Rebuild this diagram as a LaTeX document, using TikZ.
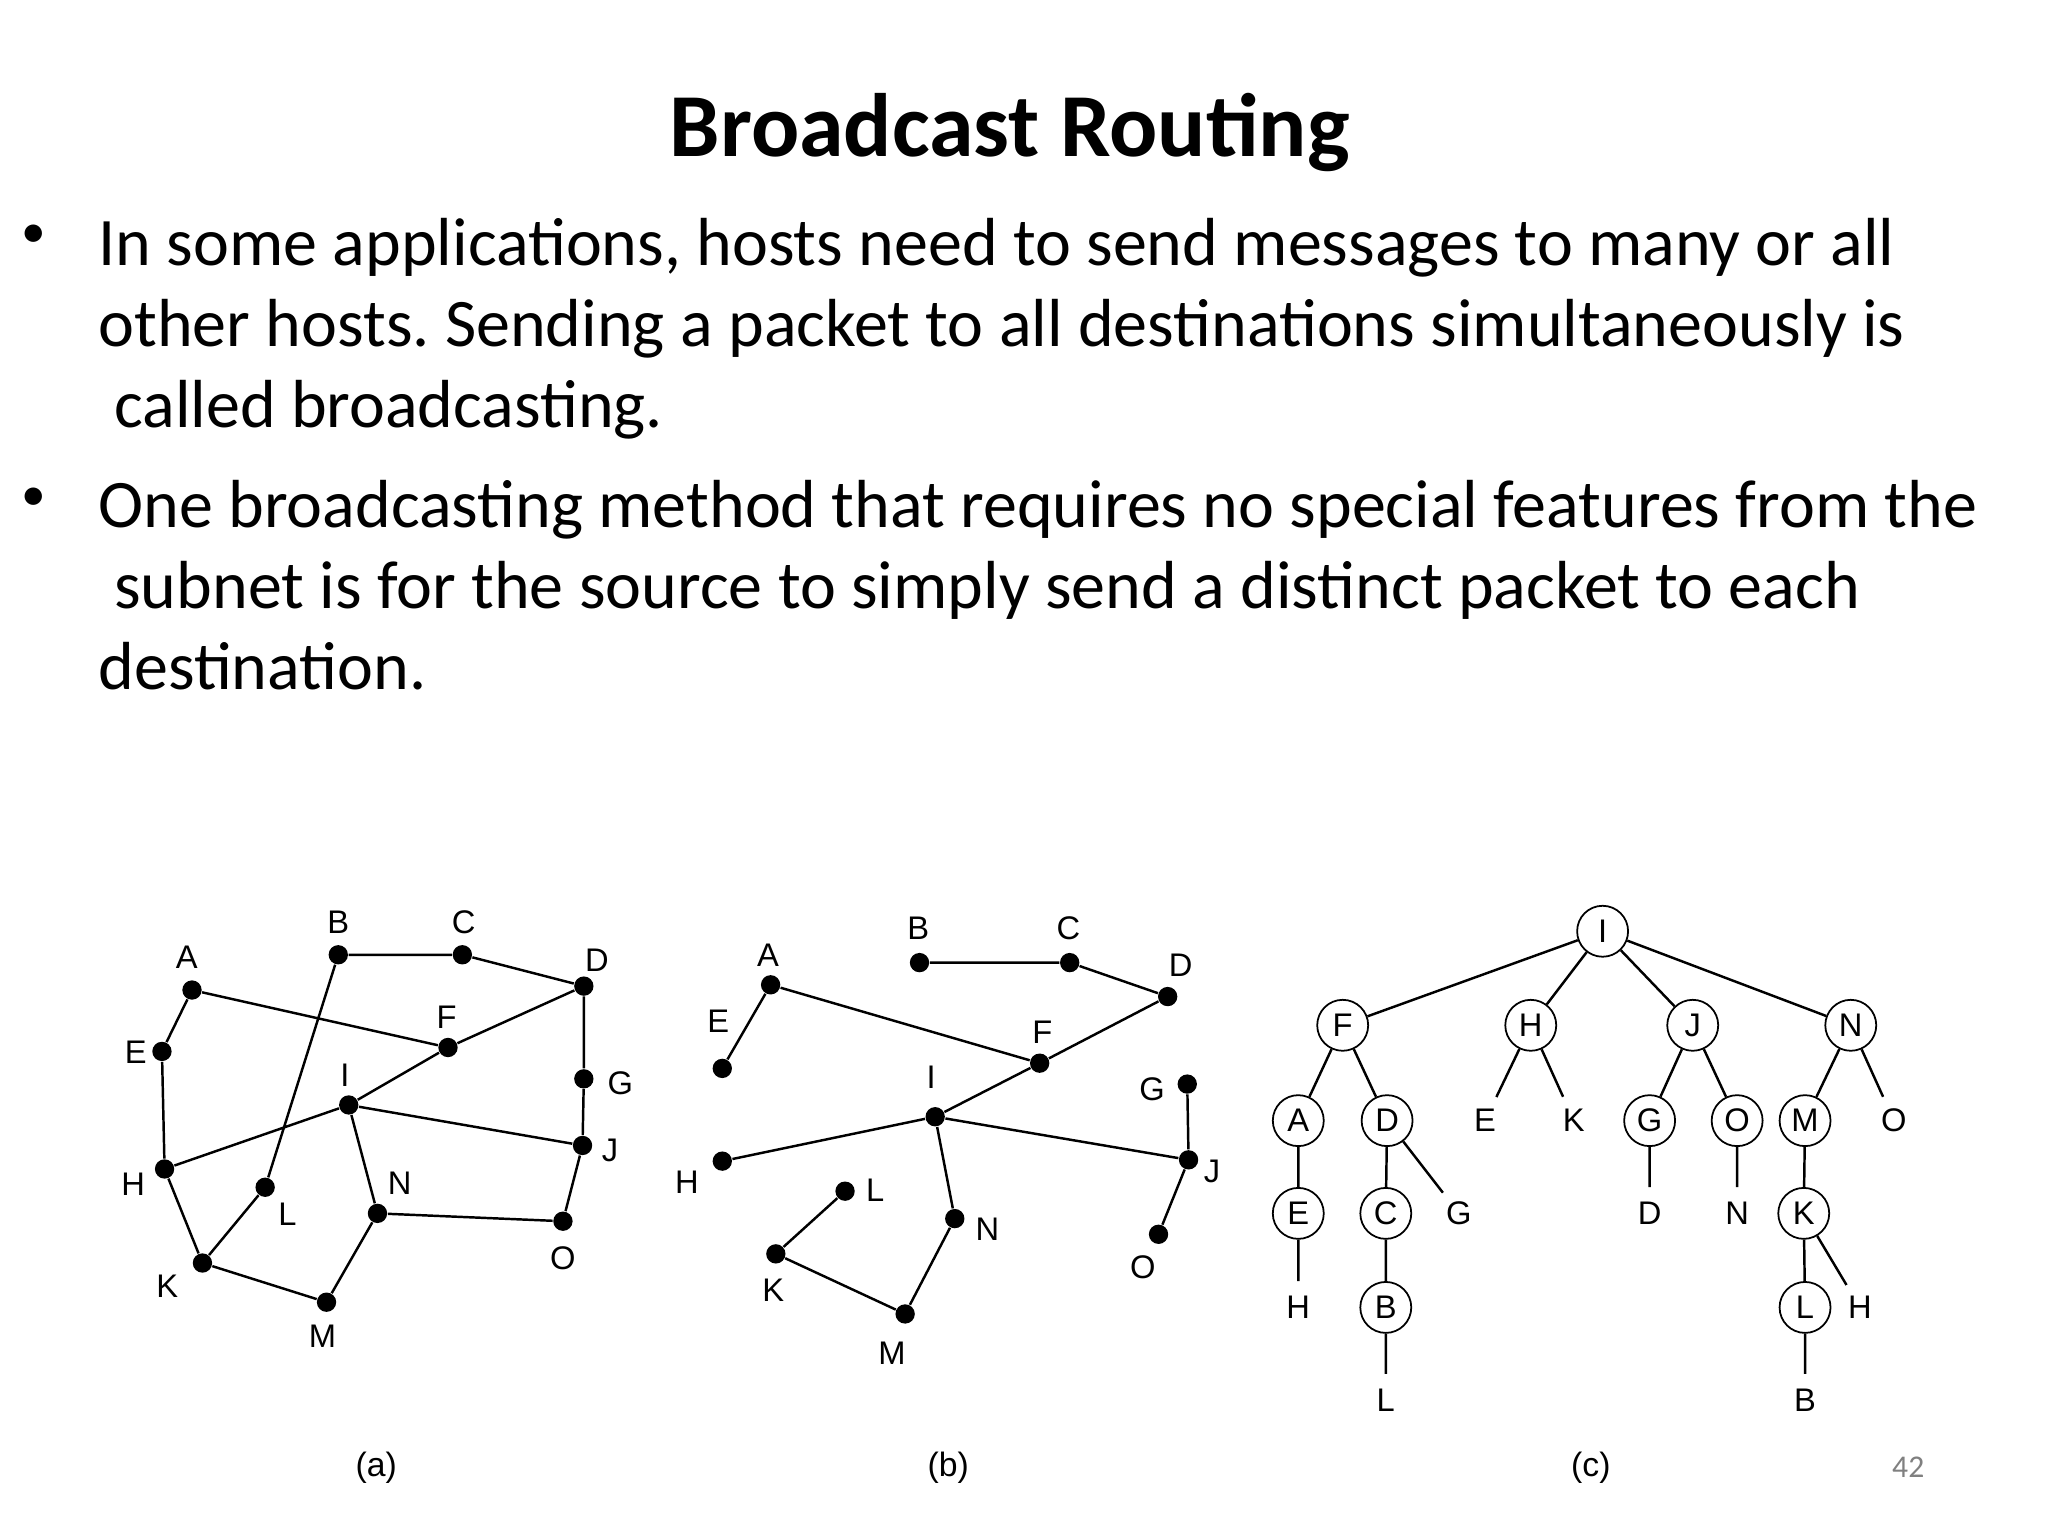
\documentclass[tikz,border=0pt]{standalone}
\usepackage{fontspec}
\setmainfont{Carlito}
\newfontfamily\arialf{Liberation Sans}
\frenchspacing
\tikzset{
  dotn/.style={circle, fill=black, inner sep=0pt, minimum size=5.5pt},
  lab/.style={font=\arialf\fontsize{9.3}{11}\selectfont, inner sep=0pt},
  tc/.style={circle, draw, line width=0.5pt, minimum size=14.5pt, inner sep=0pt, font=\arialf\fontsize{9.3}{11}\selectfont},
  tl/.style={circle, minimum size=14.5pt, inner sep=0pt, font=\arialf\fontsize{9.3}{11}\selectfont},
  ed/.style={line width=0.7pt},
  body/.style={font=\fontsize{19.35}{23}\selectfont, inner sep=0pt, anchor=base west},
  bul/.style={font=\fontsize{14}{16}\selectfont, inner sep=0pt, anchor=center},
  captxt/.style={font=\arialf\fontsize{9.6}{11}\selectfont, inner sep=0pt}
}
\begin{document}
\begin{tikzpicture}[x=0.0130612cm, y=-0.0130612cm]
\fill[white] (0,0) rectangle (1568,1176);
\useasboundingbox (0,0) rectangle (1568,1176);
% title and text
\node[font=\bfseries\fontsize{25.6}{30}\selectfont, inner sep=0pt, anchor=base] (title) at (773,120) {Broadcast Routing};
\node[bul] (b1) at (26,181) {•};
\node[body] (l1) at (75,203) {In some applications, hosts need to send messages to many or all};
\node[body] (l2) at (75,265) {other hosts. Sending a packet to all destinations simultaneously is};
\node[body] (l3) at (87,327) {called broadcasting.};
\node[bul] (b2) at (26,382) {•};
\node[body] (l4) at (75,404) {One broadcasting method that requires no special features from the};
\node[body] (l5) at (87,466) {subnet is for the source to simply send a distinct packet to each};
\node[body] (l6) at (75,528) {destination.};
% ---------- panel (a)
\node[dotn] (aA) at (147,758) {};
\node[dotn] (aB) at (259,731) {};
\node[dotn] (aC) at (354,731) {};
\node[dotn] (aD) at (447,755) {};
\node[dotn] (aE) at (124,805) {};
\node[dotn] (aF) at (343,802) {};
\node[dotn] (aG) at (447,826) {};
\node[dotn] (aI) at (267,846) {};
\node[dotn] (aJ) at (446,877) {};
\node[dotn] (aH) at (126,895) {};
\node[dotn] (aL) at (203,909) {};
\node[dotn] (aN) at (289,929) {};
\node[dotn] (aO) at (431,935) {};
\node[dotn] (aK) at (155,967) {};
\node[dotn] (aM) at (250,997) {};
\node[lab] (laA) at (143,733) {A};
\node[lab] (laB) at (259,706) {B};
\node[lab] (laC) at (355,706) {C};
\node[lab] (laD) at (457,735) {D};
\node[lab] (laE) at (104,806) {E};
\node[lab] (laF) at (342,779) {F};
\node[lab] (laG) at (475,829) {G};
\node[lab] (laI) at (264,823) {I};
\node[lab] (laJ) at (467,881) {J};
\node[lab] (laH) at (102,907) {H};
\node[lab] (laL) at (220,930) {L};
\node[lab] (laN) at (306,906) {N};
\node[lab] (laO) at (431,963) {O};
\node[lab] (laK) at (128,985) {K};
\node[lab] (laM) at (247,1023) {M};
\draw[ed] (aA)--(aE) (aA)--(aF) (aB)--(aC) (aC)--(aD) (aB)--(aL) (aD)--(aF)
  (aD)--(aG) (aG)--(aJ) (aE)--(aH) (aF)--(aI) (aI)--(aH) (aI)--(aJ) (aI)--(aN)
  (aH)--(aK) (aK)--(aL) (aK)--(aM) (aM)--(aN) (aN)--(aO) (aO)--(aJ);
\node[captxt] (capa) at (288,1124) {(a)};
% ---------- panel (b)
\node[dotn] (bA) at (590,754) {};
\node[dotn] (bB) at (704,737) {};
\node[dotn] (bC) at (819,737) {};
\node[dotn] (bD) at (894,763) {};
\node[dotn] (bE) at (553,818) {};
\node[dotn] (bF) at (796,814) {};
\node[dotn] (bI) at (716,855) {};
\node[dotn] (bG) at (909,830) {};
\node[dotn] (bJ) at (910,888) {};
\node[dotn] (bH) at (553,889) {};
\node[dotn] (bL) at (647,912) {};
\node[dotn] (bN) at (731,933) {};
\node[dotn] (bO) at (887,945) {};
\node[dotn] (bK) at (594,960) {};
\node[dotn] (bM) at (693,1006) {};
\node[lab] (lbA) at (588,731) {A};
\node[lab] (lbB) at (703,711) {B};
\node[lab] (lbC) at (818,711) {C};
\node[lab] (lbD) at (904,739) {D};
\node[lab] (lbE) at (550,782) {E};
\node[lab] (lbF) at (798,790) {F};
\node[lab] (lbI) at (713,825) {I};
\node[lab] (lbG) at (882,834) {G};
\node[lab] (lbJ) at (928,897) {J};
\node[lab] (lbH) at (526,905) {H};
\node[lab] (lbL) at (670,911) {L};
\node[lab] (lbN) at (756,941) {N};
\node[lab] (lbO) at (875,970) {O};
\node[lab] (lbK) at (592,988) {K};
\node[lab] (lbM) at (683,1036) {M};
\draw[ed] (bA)--(bE) (bA)--(bF) (bB)--(bC) (bC)--(bD) (bD)--(bF) (bF)--(bI)
  (bI)--(bH) (bI)--(bJ) (bI)--(bN) (bN)--(bM) (bM)--(bK) (bK)--(bL)
  (bG)--(bJ) (bJ)--(bO);
\node[captxt] (capb) at (726,1124) {(b)};
% ---------- panel (c)
\node[tc] (tI) at (1227,713) {I};
\node[tc] (tF) at (1028,785) {F};
\node[tc] (tH) at (1172,785) {H};
\node[tc] (tJ) at (1296,785) {J};
\node[tc] (tN) at (1417,785) {N};
\node[tc] (tA) at (994,858) {A};
\node[tc] (tD) at (1062,858) {D};
\node[tl] (tE1) at (1137,858) {E};
\node[tl] (tK1) at (1205,858) {K};
\node[tc] (tG) at (1263,858) {G};
\node[tc] (tO) at (1330,858) {O};
\node[tc] (tM) at (1382,858) {M};
\node[tl] (tO2) at (1450,858) {O};
\node[tc] (tE) at (994,929) {E};
\node[tc] (tC) at (1061,929) {C};
\node[tl] (tG2) at (1117,929) {G};
\node[tl] (tD2) at (1263,929) {D};
\node[tl] (tN2) at (1330,929) {N};
\node[tc] (tK) at (1381,929) {K};
\node[tl] (tH2) at (994,1001) {H};
\node[tc] (tB) at (1061,1001) {B};
\node[tc] (tL) at (1382,1001) {L};
\node[tl] (tH3) at (1424,1001) {H};
\node[tl] (tL2) at (1061,1072) {L};
\node[tl] (tB2) at (1382,1072) {B};
\draw[ed] (tI)--(tF) (tI)--(tH) (tI)--(tJ) (tI)--(tN)
  (tF)--(tA) (tF)--(tD) (tH)--(tE1) (tH)--(tK1) (tJ)--(tG) (tJ)--(tO)
  (tN)--(tM) (tN)--(tO2) (tA)--(tE) (tD)--(tC) (tD)--(tG2) (tG)--(tD2)
  (tO)--(tN2) (tM)--(tK) (tE)--(tH2) (tC)--(tB) (tK)--(tL) (tK)--(tH3)
  (tB)--(tL2) (tL)--(tB2);
\node[captxt] (capc) at (1218,1124) {(c)};
\node[font=\fontsize{9}{10}\selectfont, text=gray, inner sep=0pt] (pg) at (1461,1123) {42};
\end{tikzpicture}
\end{document}
